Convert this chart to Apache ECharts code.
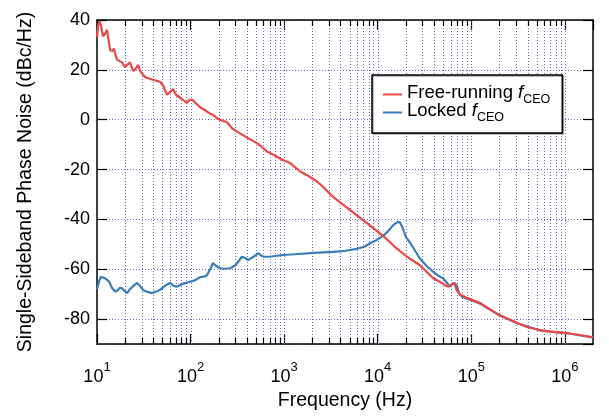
<!DOCTYPE html>
<html>
<head>
<meta charset="utf-8">
<script src="https://cdn.jsdelivr.net/npm/echarts@6/dist/echarts.min.js"></script>
<style>
  html, body { margin: 0; padding: 0; background: #fff; }
  #chart { width: 609px; height: 416px; }
</style>
</head>
<body>
<div id="chart"></div>
<script>
  // free-running fCEO
  const freeFreq = [10, 10.3, 10.6, 11, 11.6, 12.2, 12.8, 13.3, 13.8, 14.5, 15.2, 15.6, 16.4, 17.5, 18.5, 20, 21, 22.5, 23.5, 24.5,
    26, 27.5, 29, 31, 33, 36, 39.7, 44, 48, 52, 56, 60, 65, 70, 80, 91, 98, 104, 115, 126, 140, 160, 174, 190, 206, 245, 283, 320,
    363, 430, 512, 580, 660, 800, 970, 1160, 1480, 1800, 2250, 2700, 3340, 4500, 6000, 8000, 10000, 12000, 15000, 20600, 28000,
    39000, 46000, 52000, 57000, 62000, 66000, 70000, 75000, 90000, 110000, 125000, 150000, 200000, 250000, 310000, 400000,
    540000, 700000, 1050000, 1500000, 2000000];
  const freeDb = [33, 38, 39.5, 38, 33.5, 34.5, 36, 32, 28, 27.5, 28.5, 26.5, 24, 23.5, 23, 21, 22, 23, 21, 19.5,
    20.5, 22, 19.5, 18, 17, 16.5, 16, 15.5, 15, 13, 10, 11, 12.3, 10, 8.5, 6.7, 8, 8, 6.5, 5, 4, 2.5, 1.9, 0.7, 0, -1, -3.7, -5,
    -6.2, -7.8, -9.4, -11, -12.8, -14.5, -16.2, -17.4, -20.8, -22.5, -24.8, -27.5, -31, -34.8, -38.4, -42, -44.9, -47.3, -50.8, -55, -58.3,
    -63.5, -65, -66.3, -67, -66, -65.5, -68.5, -70, -71.5, -72.8, -73.6, -75.5, -78.4, -80, -81.6, -83.3,
    -84.4, -85, -85.6, -86.5, -87.3];

  // locked fCEO
  const lockFreq = [10, 10.5, 11, 11.5, 12, 12.8, 13.5, 14.5, 15.6, 16.5, 17.5, 18.5, 19.5, 21, 22.5, 24, 26.8, 28.5, 31, 34,
    38.7, 42, 47, 52, 57, 60, 65, 71, 80, 90, 98, 110, 126, 140, 150, 162, 174, 185, 206, 230, 264, 300, 330, 354, 385, 413,
    470, 528, 570, 600, 700, 970, 1300, 1900, 3300, 4500, 6000, 7200, 8300, 9500, 11000, 12500, 13700, 15000, 16400, 17400,
    18500, 20000, 22400, 25000, 28000, 33000, 39000, 44000, 50000, 55000, 59000, 62000, 66000, 70000, 74000, 80000, 90000,
    110000, 125000, 150000, 200000, 310000, 540000, 1050000, 2000000];
  const lockDb = [-68, -65, -63, -62.5, -63.5, -64.3, -65, -67.5, -69, -68.5, -67.5, -67.6, -68.5, -69.6, -68, -67, -65.5, -66.5, -68.3, -69,
    -69.6, -69, -68.3, -67, -66, -65.5, -66.5, -67, -66, -65.5, -65, -64.5, -63.2, -63, -62.3, -60, -57.5, -58.5, -59.6, -59.8, -59.6, -58.5, -56.5, -55, -55.5, -56.3,
    -55, -53.5, -54.5, -55, -55, -54.3, -54, -53.5, -53, -52.6, -51.8, -51, -49.6, -48.5, -47, -45.3, -43.6, -42, -41, -41.3,
    -43.5, -47, -49.6, -52.5, -55.5, -58.5, -61, -62.5, -63.6, -65.5, -67, -66, -65.5, -66.5, -69.6, -71, -71.8,
    -73, -73.8, -75.7, -78.5, -81.7, -84.5, -85.7, -87.4];

  const decades = [10, 100, 1000, 10000, 100000, 1000000];
  const multipliers = [1, 2, 3, 4, 5, 6, 7, 8, 9];
  const xMin = 10, xMax = 2000000;
  const yMin = -90, yMax = 40;

  const FONT = 'Liberation Sans';
  const RED = '#ee4646';
  const BLUE = '#3a7db7';
  const GRID_COLOR = '#6c6cbc';

  // grid / minor tick positions: [freq, y, isMajor]
  const tickData = [];
  decades.forEach(d => {
    multipliers.forEach(m => {
      const f = d * m;
      if (f < xMax) tickData.push([f, yMin, m === 1 ? 1 : 0]);
    });
  });

  const chart = echarts.init(document.getElementById('chart'));

  chart.setOption({
    animation: false,
    backgroundColor: '#fff',
    textStyle: { fontFamily: FONT },
    grid: { left: 97, right: 16, top: 20, bottom: 72 },
    legend: {
      data: ['Free-running fCEO', 'Locked fCEO'],
      orient: 'vertical',
      left: 372,
      top: 75,
      icon: 'rect',
      itemWidth: 19,
      itemHeight: 2,
      itemGap: -5,
      padding: [8, 12, 9, 11],
      backgroundColor: '#fff',
      borderColor: '#000',
      borderWidth: 1.5,
      borderRadius: 0,
      shadowColor: 'rgba(0,0,0,0.35)',
      shadowOffsetX: 1,
      shadowOffsetY: 1,
      formatter: name => {
        const label = name.replace(' fCEO', ' ');
        return '{t|' + label + '}{i|f}{s|CEO}';
      },
      textStyle: {
        rich: {
          t: { fontSize: 18.5, fontFamily: FONT, color: '#000', verticalAlign: 'bottom', padding: [0, 0, 4, 0] },
          i: { fontSize: 18.5, fontFamily: FONT, fontStyle: 'italic', color: '#000', verticalAlign: 'bottom', padding: [0, 0, 4, 0] },
          s: { fontSize: 12.5, fontFamily: FONT, color: '#000', verticalAlign: 'bottom' }
        }
      }
    },
    xAxis: [{
      type: 'log',
      logBase: 10,
      min: xMin,
      max: xMax,
      name: 'Frequency (Hz)',
      nameLocation: 'middle',
      nameGap: 44,
      nameTextStyle: { fontSize: 19.5, color: '#000', fontFamily: FONT },
      axisLine: { onZero: false, lineStyle: { color: '#000', width: 1.5 } },
      axisTick: { inside: true, length: 10, lineStyle: { color: '#000', width: 1.2 } },
      splitLine: { show: false },
      axisLabel: {
        margin: 17,
        showMaxLabel: false,
        formatter: v => '{b|10}{s|' + Math.round(Math.log10(v)) + '}',
        rich: {
          b: { fontSize: 18, fontFamily: FONT, color: '#000', verticalAlign: 'top', padding: [7, 0, 0, 0] },
          s: { fontSize: 13, fontFamily: FONT, color: '#000', verticalAlign: 'top' }
        }
      }
    }, {
      type: 'log',
      logBase: 10,
      min: xMin,
      max: xMax,
      position: 'top',
      axisLine: { onZero: false, lineStyle: { color: '#000', width: 1.5 } },
      axisTick: { inside: true, length: 10, lineStyle: { color: '#000', width: 1.2 } },
      axisLabel: { show: false },
      splitLine: { show: false }
    }],
    yAxis: [{
      type: 'value',
      min: yMin,
      max: yMax,
      splitNumber: 6,
      name: 'Single-Sideband Phase Noise (dBc/Hz)',
      nameLocation: 'middle',
      nameGap: 61,
      nameTextStyle: { fontSize: 19.5, color: '#000', fontFamily: FONT },
      axisLine: { show: true, onZero: false, lineStyle: { color: '#000', width: 1.5 } },
      axisTick: { show: true, inside: true, length: 10, lineStyle: { color: '#000', width: 1.2 } },
      axisLabel: { showMinLabel: false, margin: 7, fontSize: 18, color: '#000', fontFamily: FONT },
      splitLine: { show: true, lineStyle: { color: GRID_COLOR, width: 1, type: [1, 2] } }
    }, {
      type: 'value',
      min: yMin,
      max: yMax,
      splitNumber: 6,
      position: 'right',
      axisLine: { show: true, onZero: false, lineStyle: { color: '#000', width: 1.5 } },
      axisTick: { show: true, inside: true, length: 10, lineStyle: { color: '#000', width: 1.2 } },
      axisLabel: { show: false },
      splitLine: { show: false }
    }],
    series: [{
      name: 'grid',
      type: 'custom',
      xAxisIndex: 0,
      yAxisIndex: 0,
      z: 1,
      silent: true,
      encode: { x: 0, y: 1 },
      data: tickData,
      renderItem: (params, api) => {
        const f = api.value(0);
        const isMajor = api.value(2) === 1;
        const bot = api.coord([f, yMin]);
        const top = api.coord([f, yMax]);
        const x = Math.round(bot[0]) + 0.5;
        const children = [];
        if (f > xMin) {
          children.push({
            type: 'line',
            shape: { x1: x, y1: bot[1], x2: x, y2: top[1] },
            style: { stroke: GRID_COLOR, lineWidth: 1, lineDash: [1, 2] }
          });
        }
        if (!isMajor) {
          children.push({
            type: 'line',
            shape: { x1: x, y1: bot[1], x2: x, y2: bot[1] - 6 },
            style: { stroke: '#000', lineWidth: 1.2 }
          });
          children.push({
            type: 'line',
            shape: { x1: x, y1: top[1], x2: x, y2: top[1] + 6 },
            style: { stroke: '#000', lineWidth: 1.2 }
          });
        }
        return { type: 'group', children: children };
      }
    }, {
      name: 'Locked fCEO',
      type: 'line',
      z: 3,
      showSymbol: false,
      color: BLUE,
      lineStyle: { color: BLUE, width: 2.2 },
      data: lockFreq.map((f, i) => [f, lockDb[i]])
    }, {
      name: 'Free-running fCEO',
      type: 'line',
      z: 4,
      showSymbol: false,
      color: RED,
      lineStyle: { color: RED, width: 2.2 },
      data: freeFreq.map((f, i) => [f, freeDb[i]])
    }]
  });
</script>
</body>
</html>
